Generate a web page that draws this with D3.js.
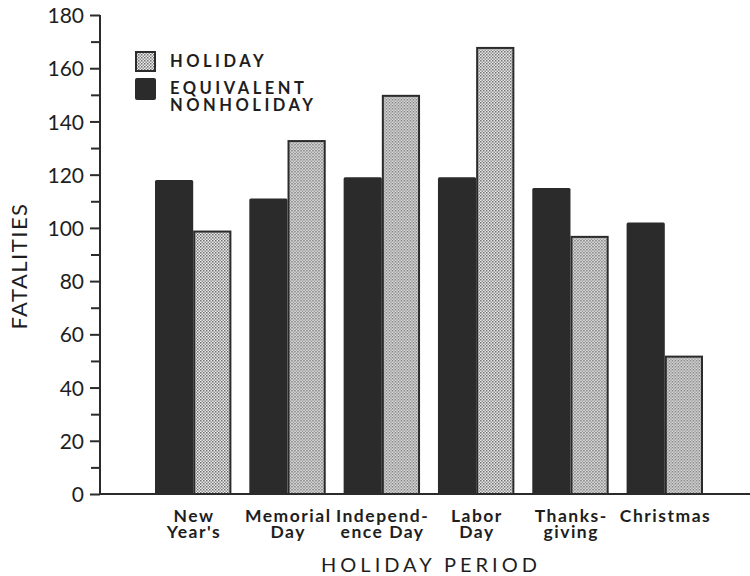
<!DOCTYPE html>
<html>
<head>
<meta charset="utf-8">
<script src="https://cdn.jsdelivr.net/npm/d3@7"></script>
<style>
  html, body { margin: 0; padding: 0; background: #fff; }
  svg { display: block; }
  text { font-family: "Lato", "DejaVu Sans", sans-serif; fill: #1e1e1e; }
</style>
</head>
<body>
<svg id="chart" width="750" height="576"></svg>
<script>
// ---- data ----
const categories = ["New Year's", "Memorial Day", "Independence Day", "Labor Day", "Thanksgiving", "Christmas"];
const categoryLines = [["New", "Year's"], ["Memorial", "Day"], ["Independ-", "ence Day"], ["Labor", "Day"], ["Thanks-", "giving"], ["Christmas"]];
const nonholidayValues = [118, 111, 119, 119, 115, 102];
const holidayValues = [99, 133, 150, 168, 97, 52];
const seriesKeys = ["nonholiday", "holiday"];
const legendLabels = [["HOLIDAY"], ["EQUIVALENT", "NONHOLIDAY"]];
const yTickValues = [0, 20, 40, 60, 80, 100, 120, 140, 160, 180];
const yMinorTickValues = [10, 30, 50, 70, 90, 110, 130, 150, 170];
const yTitle = "FATALITIES";
const xTitle = "HOLIDAY PERIOD";

// ---- setup ----
const svg = d3.select("#chart");
const dark = "#2b2b2b";

const defs = svg.append("defs");
const pat = defs.append("pattern")
  .attr("id", "dots").attr("patternUnits", "userSpaceOnUse")
  .attr("width", 3).attr("height", 3);
pat.append("rect").attr("width", 3).attr("height", 3).attr("fill", "#ececec");
pat.append("rect").attr("x", 0).attr("y", 0).attr("width", 1.5).attr("height", 1.5).attr("fill", "#6e6e6e");
pat.append("rect").attr("x", 1.5).attr("y", 1.5).attr("width", 1.5).attr("height", 1.5).attr("fill", "#8e8e8e");

const x0 = d3.scaleBand().domain(categories).range([155, 703]).paddingInner(0.19).paddingOuter(0);
const x1 = d3.scaleBand().domain(seriesKeys).range([0, x0.bandwidth()]);
const y = d3.scaleLinear().domain([0, 180]).range([494, 15]);
const axisX = 100;

const rows = categories.map((c, i) => ({ cat: c, nonholiday: nonholidayValues[i], holiday: holidayValues[i] }));

// ---- bars ----
const groups = svg.append("g").selectAll("g").data(rows).join("g")
  .attr("transform", d => `translate(${x0(d.cat)},0)`);

groups.append("rect")
  .attr("x", x1("nonholiday"))
  .attr("y", d => y(d.nonholiday))
  .attr("width", x1.bandwidth())
  .attr("height", d => y(0) - y(d.nonholiday))
  .attr("rx", 1.5)
  .attr("fill", dark);

groups.append("rect")
  .attr("x", d => x1("holiday") + 1)
  .attr("y", d => y(d.holiday) + 1)
  .attr("width", x1.bandwidth() - 2)
  .attr("height", d => y(0) - y(d.holiday) - 1)
  .attr("fill", "url(#dots)")
  .attr("stroke", dark)
  .attr("stroke-width", 2);

// ---- y axis ----
const yAxis = svg.append("g").attr("transform", `translate(${axisX},0)`)
  .call(d3.axisLeft(y).tickValues(yTickValues).tickSize(10).tickPadding(6).tickFormat(d3.format("d")));
yAxis.select(".domain").attr("stroke", dark).attr("stroke-width", 2).attr("d", `M0,${y(180)}V${y(0)}`);
yAxis.selectAll(".tick line").attr("stroke", dark).attr("stroke-width", 2);
yAxis.selectAll(".tick text").attr("font-size", 21).attr("fill", "#1e1e1e")
  .style("font-family", "Lato, 'DejaVu Sans', sans-serif").attr("dy", "0.36em");

const yMinor = svg.append("g").attr("transform", `translate(${axisX},0)`)
  .call(d3.axisLeft(y).tickValues(yMinorTickValues).tickSize(9).tickFormat(""));
yMinor.select(".domain").remove();
yMinor.selectAll(".tick line").attr("stroke", dark).attr("stroke-width", 2);

// ---- x axis line ----
const xAxis = svg.append("g").attr("transform", `translate(0,${y(0)})`)
  .call(d3.axisBottom(x0).tickSize(0).tickFormat(""));
xAxis.select(".domain").attr("stroke", dark).attr("stroke-width", 2).attr("d", `M${axisX - 1},0H750`);

// ---- category labels ----
const catSpacing = 1.5;
const lbl = svg.append("g").selectAll("text").data(categories).join("text")
  .attr("x", d => x0(d) + x0.bandwidth() / 2)
  .attr("y", 522)
  .attr("text-anchor", "middle")
  .attr("font-size", 17.5).attr("font-weight", 700).attr("letter-spacing", catSpacing);
lbl.each(function(d, i) {
  const t = d3.select(this);
  categoryLines[i].forEach((line, j) => {
    t.append("tspan").attr("x", x0(d) + x0.bandwidth() / 2 + catSpacing / 2).attr("dy", j === 0 ? 0 : 16).text(line);
  });
});

// ---- axis titles ----
svg.append("text").attr("x", 431).attr("y", 572).attr("text-anchor", "middle")
  .attr("font-size", 20).attr("letter-spacing", 4).text(xTitle);

svg.append("text").attr("transform", `translate(27,266) rotate(-90)`)
  .attr("text-anchor", "middle").attr("font-size", 22).attr("letter-spacing", 1.5).text(yTitle);

// ---- legend ----
const legendFills = ["url(#dots)", dark];
const legendY = [51, 78];
legendLabels.forEach((lines, i) => {
  const g = svg.append("g");
  if (i === 0) {
    g.append("rect").attr("x", 136).attr("y", legendY[i] + 1).attr("width", 19).attr("height", 19)
      .attr("fill", legendFills[i]).attr("stroke", dark).attr("stroke-width", 2);
  } else {
    g.append("rect").attr("x", 135).attr("y", legendY[i]).attr("width", 21).attr("height", 22)
      .attr("rx", 2).attr("fill", legendFills[i]);
  }
  const t = g.append("text").attr("x", 170).attr("y", legendY[i] + 16)
    .attr("font-size", 16.5).attr("font-weight", 700).attr("letter-spacing", 3.5);
  lines.forEach((line, j) => t.append("tspan").attr("x", 170).attr("dy", j === 0 ? 0 : 17).text(line));
});
</script>
</body>
</html>
